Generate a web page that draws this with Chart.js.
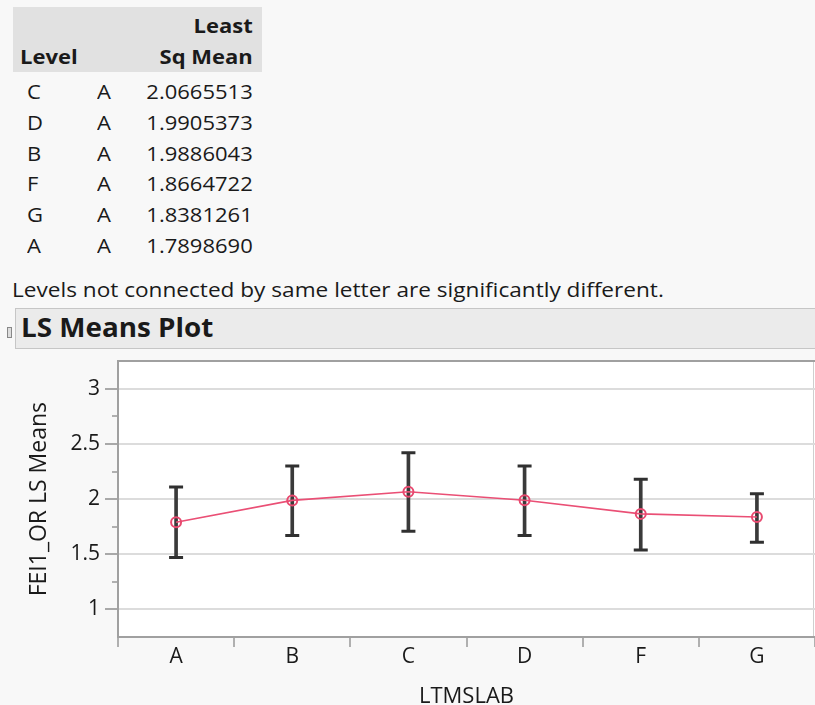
<!DOCTYPE html>
<html>
<head>
<meta charset="utf-8">
<script src="https://cdn.jsdelivr.net/npm/chart.js@4"></script>
<style>
  body { margin: 0; background: #f8f8f8; font-family: "Open Sans", sans-serif; color: #1a1a1a; }
  #page { position: relative; width: 815px; height: 705px; overflow: hidden; }
  .abs { position: absolute; white-space: nowrap; line-height: 1; }
  .l { transform: scaleX(1.1); transform-origin: left center; }
  .r { transform: scaleX(1.1); transform-origin: right center; text-align: right; }
  #head { left: 13px; top: 7px; width: 249px; height: 65px; background: #e1e1e1; }
  .b { font-weight: bold; }
  #plotbar { left: 15px; top: 308px; width: 810px; height: 39px; background: #ebebeb; border: 1px solid #c6c6c6; }
  #chartbox { position: absolute; left: 0; top: 350px; width: 815px; height: 355px; }
</style>
</head>
<body>
<div id="page">
  <div id="head" class="abs"></div>
  <div id="rows"></div>
  <div class="abs" style="left:12px; top:280px; font-size:20px; transform:scaleX(1.13); transform-origin:left center;">Levels not connected by same letter are significantly different.</div>
  <div id="plotbar" class="abs"></div>
  <div class="abs" style="left:7px; top:327px; width:3px; height:9px; border:1px solid #888; background:#ddd;"></div>
  <div class="abs b" style="left:21px; top:313px; font-size:27px; transform:scaleX(1.03); transform-origin:left center;">LS Means Plot</div>
  <div id="chartbox"><canvas id="c"></canvas></div>
</div>
<script>
// tabla de connecting letters
const levels = ["C", "D", "B", "F", "G", "A"];
const letters = ["A", "A", "A", "A", "A", "A"];
const lsMeans = [2.0665513, 1.9905373, 1.9886043, 1.8664722, 1.8381261, 1.789869];

// grafico LS means (orden del eje x)
const categories = ["A", "B", "C", "D", "F", "G"];
const lower = [1.47, 1.67, 1.71, 1.67, 1.54, 1.61];
const upper = [2.11, 2.30, 2.42, 2.30, 2.18, 2.05];
const yTicks = [1, 1.5, 2, 2.5, 3];

const means = categories.map((c) => lsMeans[levels.indexOf(c)]);

// armar filas de la tabla
const rows = document.getElementById("rows");
let html =
  '<div class="abs b r" style="right:562px;top:16px;font-size:20px;">Least</div>' +
  '<div class="abs b l" style="left:20px;top:47px;font-size:20px;">Level</div>' +
  '<div class="abs b r" style="right:562px;top:47px;font-size:20px;">Sq Mean</div>';
levels.forEach((lv, i) => {
  const top = 82 + i * 30.8;
  html +=
    `<div class="abs l" style="left:27px;top:${top}px;font-size:20px;">${lv}</div>` +
    `<div class="abs l" style="left:97px;top:${top}px;font-size:20px;">${letters[i]}</div>` +
    `<div class="abs r" style="right:562px;top:${top}px;font-size:20px;">${lsMeans[i].toFixed(7)}</div>`;
});
rows.innerHTML = html;

// fondo blanco del area de trazado y borde derecho
const plotBg = {
  id: "plotBg",
  beforeDraw(chart) {
    const a = chart.chartArea;
    const ctx = chart.ctx;
    ctx.save();
    ctx.fillStyle = "#ffffff";
    ctx.fillRect(a.left, a.top, a.right - a.left, a.bottom - a.top);
    ctx.strokeStyle = "#cfcfcf";
    ctx.lineWidth = 1;
    ctx.beginPath();
    ctx.moveTo(a.right - 1.5, a.top);
    ctx.lineTo(a.right - 1.5, a.bottom);
    ctx.stroke();
    ctx.restore();
  },
};

const fam = "'Open Sans', sans-serif";
const isMinor = (v) => !yTicks.includes(v) && v > 0.75 && v < 3.25;

new Chart(document.getElementById("c").getContext("2d"), {
  type: "bar",
  data: {
    labels: categories,
    datasets: [
      {
        type: "line",
        data: means,
        order: 0,
        borderColor: "#ea4f75",
        borderWidth: 1.6,
        pointRadius: 5,
        pointBorderWidth: 2,
        pointBorderColor: "#e8496f",
        pointBackgroundColor: "rgba(0,0,0,0)",
      },
      {
        type: "line",
        data: upper,
        order: 1,
        showLine: false,
        pointStyle: "line",
        pointRadius: 7,
        pointBorderWidth: 3,
        pointBorderColor: "#303030",
      },
      {
        type: "line",
        data: lower,
        order: 1,
        showLine: false,
        pointStyle: "line",
        pointRadius: 7,
        pointBorderWidth: 3,
        pointBorderColor: "#303030",
      },
      {
        data: categories.map((c, i) => [lower[i], upper[i]]),
        order: 2,
        barThickness: 3,
        backgroundColor: "#3a3a3a",
      },
    ],
  },
  options: {
    responsive: true,
    maintainAspectRatio: false,
    animation: false,
    layout: { autoPadding: false, padding: { top: 11, right: 0, left: 0, bottom: 0 } },
    plugins: { legend: { display: false }, tooltip: { enabled: false } },
    scales: {
      x: {
        offset: true,
        grid: { offset: true, drawOnChartArea: false, tickLength: 10, tickColor: "#b0b0b0", lineWidth: 2 },
        border: { color: "#a0a0a0", width: 2 },
        ticks: { color: "#1a1a1a", font: { family: fam, size: 21 }, padding: -3 },
        title: {
          display: true,
          text: "LTMSLAB",
          color: "#1a1a1a",
          font: { family: fam, size: 22, lineHeight: 0.75 },
          padding: { top: 0, bottom: 0 },
        },
        afterFit: (s) => { s.height = 68; },
      },
      y: {
        min: 0.75,
        max: 3.25,
        weight: 1,
        grid: {
          color: (ctx) =>
            ctx.tick && ctx.tick.value === 3.25 ? "#a0a0a0" :
            ctx.tick && yTicks.includes(ctx.tick.value) ? "#dcdcdc" : "rgba(0,0,0,0)",
          tickColor: (ctx) => (ctx.tick && yTicks.includes(ctx.tick.value) ? "#a8a8a8" : "rgba(0,0,0,0)"),
          tickLength: 13,
          lineWidth: 2,
        },
        border: { color: "#a0a0a0", width: 2 },
        ticks: {
          stepSize: 0.25,
          color: "#1a1a1a",
          font: { family: fam, size: 21, lineHeight: 0.6 },
          padding: 5,
          callback: (v) => (yTicks.includes(v) ? String(v) : ""),
        },
        title: {
          display: true,
          text: "FEI1_OR LS Means",
          color: "#1a1a1a",
          font: { family: fam, size: 23 },
          padding: { top: 26, bottom: 0 },
        },
        afterFit: (s) => { s.width = 118; },
      },
      // marcas menores del eje y (mas cortas)
      y2: {
        position: "left",
        min: 0.75,
        max: 3.25,
        weight: 0,
        border: { display: false },
        grid: {
          drawOnChartArea: false,
          tickLength: 6,
          lineWidth: 2,
          color: (ctx) => (ctx.tick && isMinor(ctx.tick.value) ? "#b0b0b0" : "rgba(0,0,0,0)"),
        },
        ticks: { display: false, stepSize: 0.25 },
        afterFit: (s) => { s.width = 0; },
      },
    },
  },
  plugins: [plotBg],
});
</script>
</body>
</html>
